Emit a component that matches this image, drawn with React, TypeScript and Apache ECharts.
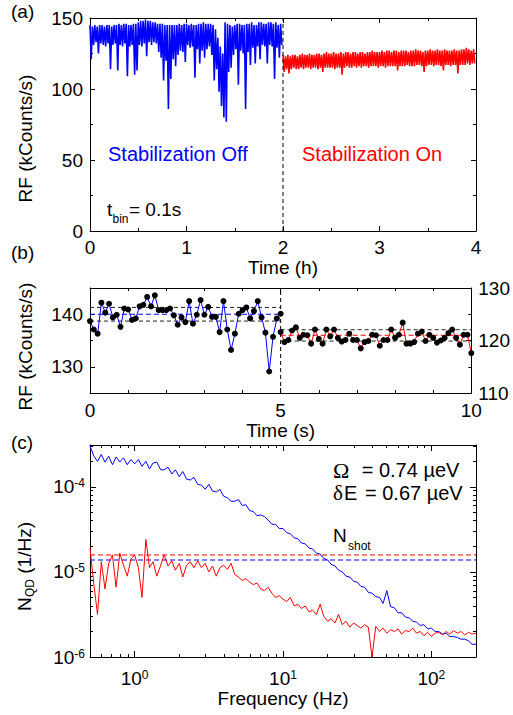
import React, { useEffect, useRef } from "react";
import * as echarts from "echarts";

const FONT = "'Liberation Sans', Arial, Helvetica, sans-serif";
const SERIF = "'Liberation Serif', 'DejaVu Serif', serif";
const BLUE = "#0000ff";
const RED = "#ff0000";

// ---------- Panel (a): RF vs time (h), envelope (upper / lower) of the dense trace ----------
const offStartH = 0;
const onStartH = 2;
const stepH = 0.025;
const offHi = [
  145, 144, 145, 144, 145, 145, 144, 145, 145, 144,
  145, 145, 146, 145, 146, 146, 145, 145, 146, 146,
  147, 148, 148, 149, 148, 148, 147, 147, 146, 146,
  146, 145, 145, 145, 145, 145, 145, 146, 145, 146,
  146, 145, 146, 145, 145, 146, 146, 147, 146, 146,
  146, 145, 142, 136, 130, 125, 147, 146, 145, 144,
  145, 146, 146, 145, 145, 146, 146, 147, 145, 145,
  147, 147, 146, 146, 147, 147, 146, 147, 145, 146,
];
const offLo = [
  121, 131, 133, 125, 132, 131, 130, 132, 114, 131,
  132, 113, 131, 130, 132, 109, 130, 131, 110, 113,
  131, 130, 132, 123, 133, 131, 133, 132, 126, 122,
  106, 120, 86, 107, 121, 116, 124, 127, 126, 119,
  131, 129, 130, 108, 128, 118, 127, 122, 128, 130,
  124, 106, 114, 98, 88, 80, 77, 112, 115, 124,
  128, 103, 127, 125, 86, 126, 117, 129, 118, 130,
  121, 131, 130, 118, 131, 130, 107, 129, 122, 131,
];
const onHi = [
  124, 123, 124, 123, 124, 124, 123, 124, 125, 124,
  124, 125, 124, 124, 125, 125, 124, 125, 126, 125,
  125, 126, 125, 125, 126, 125, 126, 126, 125, 126,
  126, 125, 126, 126, 125, 126, 126, 127, 126, 126,
  126, 127, 126, 127, 127, 126, 127, 127, 126, 127,
  127, 127, 126, 127, 127, 128, 127, 127, 126, 127,
  127, 128, 127, 127, 128, 127, 127, 128, 127, 127,
  127, 128, 127, 127, 128, 128, 129, 128, 127, 128,
];
const onLo = [
  112, 114, 111, 114, 115, 114, 114, 115, 114, 115,
  115, 114, 115, 115, 114, 115, 112, 115, 115, 115,
  115, 114, 115, 115, 110, 115, 116, 115, 115, 116,
  115, 116, 115, 116, 116, 115, 116, 116, 116, 115,
  116, 116, 115, 116, 116, 116, 116, 113, 116, 116,
  116, 117, 116, 116, 116, 117, 117, 116, 112, 116,
  117, 117, 116, 117, 117, 116, 113, 117, 117, 116,
  117, 117, 111, 117, 117, 117, 118, 117, 118, 118,
];
const switchH = 2;

// ---------- Panel (b): 0.1 s bins ----------
const binS = 0.1;
const offStartS = 0;
const onStartS = 5;
const offRate = [
  138.7, 137.1, 136.3, 142.2, 140.3, 142.0, 139.4, 139.9, 137.6, 141.1,
  140.9, 138.9, 139.2, 141.5, 141.8, 143.3, 141.5, 143.6, 140.8, 140.8,
  140.8, 141.1, 139.8, 138.0, 139.4, 138.5, 142.5, 138.2, 139.9, 142.7,
  139.9, 141.4, 139.5, 139.5, 136.6, 142.5, 137.1, 133.2, 136.3, 140.1,
  140.8, 141.3, 139.2, 140.6, 142.5, 139.4, 136.5, 129.1, 135.7, 139.2, 140.1,
];
const onRate = [
  121.6, 119.7, 120.1, 121.9, 122.5, 120.5, 121.1, 121.0, 119.4, 122.1,
  120.3, 119.4, 122.1, 120.8, 122.1, 120.5, 119.8, 120.1, 121.3, 120.1,
  120.1, 118.5, 119.7, 119.9, 121.1, 121.0, 119.0, 120.1, 120.1, 122.1,
  120.5, 121.1, 123.4, 119.4, 119.4, 119.7, 121.3, 121.7, 119.9, 121.1,
  120.5, 119.6, 120.0, 120.5, 121.4, 122.1, 120.5, 119.2, 121.1, 121.1, 117.6,
];
const offMean = 140;
const offBand = [138.7, 141.3];
const onMean = 121;
const onBand = [119.9, 122.05];
const switchS = 5;

// ---------- Panel (c): noise spectra ----------
const freqHz = [
  0.5, 0.531, 0.562, 0.596, 0.631, 0.668, 0.708, 0.75, 0.794, 0.841, 0.891, 0.944,
  1.0, 1.06, 1.12, 1.19, 1.26, 1.33, 1.41, 1.5, 1.58, 1.68, 1.78, 1.88, 2.0, 2.11,
  2.24, 2.37, 2.51, 2.66, 2.82, 2.99, 3.16, 3.35, 3.55, 3.76, 3.98, 4.22, 4.47, 4.73,
  5.01, 5.31, 5.62, 5.96, 6.31, 6.68, 7.08, 7.5, 7.94, 8.41, 8.91, 9.44,
  10.0, 10.6, 11.2, 11.9, 12.6, 13.3, 14.1, 15.0, 15.8, 16.8, 17.8, 18.8, 20.0, 21.1,
  22.4, 23.7, 25.1, 26.6, 28.2, 29.9, 31.6, 33.5, 35.5, 37.6, 39.8, 42.2, 44.7, 47.3,
  50.1, 53.1, 56.2, 59.6, 63.1, 66.8, 70.8, 75.0, 79.4, 84.1, 89.1, 94.4,
  100, 106, 112, 119, 126, 133, 141, 150, 158, 168, 178, 188, 200,
];
// log10 of N_QD (1/Hz)
const offLogN = [
  -3.52, -3.64, -3.7, -3.62, -3.71, -3.64, -3.74, -3.65, -3.71, -3.66, -3.74, -3.68,
  -3.73, -3.68, -3.76, -3.7, -3.79, -3.72, -3.71, -3.8, -3.8, -3.77, -3.85, -3.8,
  -3.88, -3.82, -3.91, -3.92, -3.89, -3.97, -3.98, -4.03, -3.97, -4.05, -4.06, -4.03,
  -4.11, -4.13, -4.17, -4.17, -4.15, -4.22, -4.21, -4.28, -4.29, -4.34, -4.33, -4.35,
  -4.39, -4.44, -4.44, -4.49, -4.49, -4.54, -4.55, -4.6, -4.61, -4.66, -4.67, -4.72,
  -4.73, -4.78, -4.79, -4.84, -4.86, -4.91, -4.93, -4.98, -5.0, -5.05, -5.06, -5.11,
  -5.12, -5.17, -5.18, -5.24, -5.25, -5.29, -5.3, -5.37, -5.22, -5.41, -5.42, -5.48,
  -5.48, -5.53, -5.54, -5.58, -5.59, -5.63, -5.62, -5.67, -5.66, -5.7, -5.7, -5.73,
  -5.72, -5.76, -5.76, -5.77, -5.79, -5.79, -5.81, -5.85, -5.85,
];
const onLogN = [
  -4.72, -5.15, -5.5, -4.88, -5.2, -4.9, -4.8, -5.18, -4.78, -4.92, -5.05, -4.85,
  -4.8, -4.95, -5.3, -4.62, -4.95, -4.88, -5.05, -4.92, -4.8, -4.93, -4.87, -4.98,
  -4.9, -5.06, -4.92, -4.88, -4.95, -4.87, -4.95, -4.9, -5.0, -4.93, -5.05, -4.95,
  -4.92, -4.97, -4.9, -5.03, -5.06, -5.1, -5.08, -5.12, -5.15, -5.13, -5.2, -5.22,
  -5.18, -5.25, -5.3, -5.28, -5.32, -5.35, -5.3, -5.4, -5.38, -5.43, -5.4, -5.47,
  -5.45, -5.5, -5.38, -5.52, -5.58, -5.55, -5.6, -5.5, -5.62, -5.58, -5.65, -5.6,
  -5.63, -5.66, -5.62, -5.65, -6.0, -5.64, -5.7, -5.66, -5.72, -5.68, -5.7, -5.67,
  -5.73, -5.69, -5.7, -5.66, -5.72, -5.7, -5.75, -5.71, -5.76, -5.72, -5.71, -5.74,
  -5.7, -5.73, -5.69, -5.72, -5.7, -5.74, -5.71, -5.73, -5.72,
];
const shotOn = 1.58e-5;
const shotOff = 1.38e-5;
const freqRange = [0.5, 200];
const nRange = [1e-6, 3.1e-4];

// ---------- tick positions ----------
const bLeftLabels = [130, 140];
const bLeftMinor = [135];
const cXMajor = [1, 10, 100];
const cXMinor = [0.6, 0.7, 0.8, 0.9, 2, 3, 4, 5, 6, 7, 8, 9, 20, 30, 40, 50, 60, 70, 80, 90];
const cYMajor = [1e-6, 1e-5, 1e-4];
const cYMinor = [
  2e-6, 3e-6, 4e-6, 5e-6, 6e-6, 7e-6, 8e-6, 9e-6,
  2e-5, 3e-5, 4e-5, 5e-5, 6e-5, 7e-5, 8e-5, 9e-5,
  2e-4, 3e-4,
];

function zigzag(start: number, step: number, hi: number[], lo: number[]) {
  const pts: number[][] = [];
  for (let i = 0; i < hi.length; i++) {
    const t = start + i * step;
    pts.push([t, hi[i]]);
    pts.push([t + step / 2, lo[i]]);
  }
  return pts;
}

const black = "#000";
const lineCol = { color: black, width: 1 };
const labelStyle = { color: black, fontSize: 19, fontFamily: FONT };
const nameStyle = { color: black, fontSize: 19, fontFamily: FONT };

function valAxis(extra: any) {
  return {
    type: "value",
    axisLine: { show: true, onZero: false, lineStyle: lineCol },
    splitLine: { show: false },
    axisTick: { show: true, inside: true, length: 5, lineStyle: lineCol },
    axisLabel: { ...labelStyle, margin: 7 },
    ...extra,
  };
}

const powRich = {
  b: { fontSize: 19, fontFamily: FONT, color: black },
  s: { fontSize: 12, fontFamily: FONT, color: black, verticalAlign: "top" },
};
const powFormatter = (v: number) => `{b|10}{s|${Math.round(Math.log10(v))}}`;

function logAxis(extra: any, major: boolean, values: number[]) {
  return {
    type: "log",
    logBase: 10,
    axisLine: { show: major, onZero: false, lineStyle: lineCol },
    splitLine: { show: false },
    axisTick: { show: true, inside: true, length: major ? 6 : 3, customValues: values, lineStyle: lineCol },
    minorTick: { show: false },
    axisLabel: { show: false },
    ...extra,
  };
}

function dashed(xi: number, yi: number, data: number[][], color: string, dash: number[]) {
  return {
    type: "line",
    xAxisIndex: xi,
    yAxisIndex: yi,
    data,
    symbol: "none",
    silent: true,
    lineStyle: { color, width: 1, type: dash },
  };
}

export default function App() {
  const ref = useRef<HTMLDivElement>(null);
  useEffect(() => {
    document.body.style.margin = "0";
    const chart = echarts.init(ref.current!, undefined, { renderer: "svg" });

    const offPts = offRate.map((v, i) => [offStartS + i * binS, v]);
    const onPts = onRate.map((v, i) => [onStartS + i * binS, v]);
    const offSpec = freqHz.map((f, i) => [f, Math.pow(10, offLogN[i])]);
    const onSpec = freqHz.map((f, i) => [f, Math.pow(10, onLogN[i])]);

    const option: any = {
      animation: false,
      grid: [
        { left: 90, top: 18, width: 386, height: 213 },
        { left: 90, top: 288, width: 386, height: 105 },
        { left: 90, top: 445, width: 386, height: 212 },
      ],
      xAxis: [
        valAxis({
          gridIndex: 0, min: 0, max: 4, interval: 1, position: "bottom",
          minorTick: { show: true, splitNumber: 2, length: 3, lineStyle: lineCol },
          name: "Time (h)", nameLocation: "middle", nameGap: 25, nameTextStyle: nameStyle,
        }),
        valAxis({
          gridIndex: 0, min: 0, max: 4, interval: 1, position: "top",
          axisLabel: { show: false },
          minorTick: { show: true, splitNumber: 2, length: 3, lineStyle: lineCol },
        }),
        valAxis({
          gridIndex: 1, min: 0, max: 10, interval: 5, position: "bottom",
          axisLabel: { ...labelStyle, margin: 8 },
          minorTick: { show: true, splitNumber: 5, length: 3, lineStyle: lineCol },
          name: "Time (s)", nameLocation: "middle", nameGap: 20, nameTextStyle: nameStyle,
        }),
        valAxis({
          gridIndex: 1, min: 0, max: 10, interval: 5, position: "top",
          axisLabel: { show: false },
          minorTick: { show: true, splitNumber: 5, length: 3, lineStyle: lineCol },
        }),
        logAxis({
          gridIndex: 2, min: freqRange[0], max: freqRange[1], position: "bottom",
          axisLabel: { show: true, customValues: cXMajor, formatter: powFormatter, rich: powRich, margin: 12 },
          name: "Frequency (Hz)", nameLocation: "middle", nameGap: 30, nameTextStyle: nameStyle,
        }, true, cXMajor),
        logAxis({ gridIndex: 2, min: freqRange[0], max: freqRange[1], position: "bottom" }, false, cXMinor),
        logAxis({ gridIndex: 2, min: freqRange[0], max: freqRange[1], position: "top" }, true, cXMajor),
        logAxis({ gridIndex: 2, min: freqRange[0], max: freqRange[1], position: "top" }, false, cXMinor),
      ],
      yAxis: [
        valAxis({
          gridIndex: 0, min: 0, max: 150, interval: 50, position: "left",
          minorTick: { show: true, splitNumber: 2, length: 3, lineStyle: lineCol },
        }),
        valAxis({
          gridIndex: 0, min: 0, max: 150, interval: 50, position: "right",
          axisLabel: { show: false },
          minorTick: { show: true, splitNumber: 2, length: 3, lineStyle: lineCol },
        }),
        valAxis({
          gridIndex: 1, min: 125, max: 145, position: "left",
          axisLabel: { ...labelStyle, margin: 7, customValues: bLeftLabels },
          axisTick: { show: true, inside: true, length: 5, lineStyle: lineCol, customValues: bLeftLabels },
        }),
        valAxis({
          gridIndex: 1, min: 125, max: 145, position: "left",
          axisLine: { show: false },
          axisLabel: { show: false },
          axisTick: { show: true, inside: true, length: 3, lineStyle: lineCol, customValues: bLeftMinor },
        }),
        valAxis({
          gridIndex: 1, min: 110, max: 130, interval: 10, position: "right",
          minorTick: { show: true, splitNumber: 2, length: 3, lineStyle: lineCol },
        }),
        logAxis({
          gridIndex: 2, min: nRange[0], max: nRange[1], position: "left",
          axisLabel: { show: true, customValues: cYMajor, formatter: powFormatter, rich: powRich, margin: 5 },
        }, true, cYMajor),
        logAxis({ gridIndex: 2, min: nRange[0], max: nRange[1], position: "left" }, false, cYMinor),
        logAxis({ gridIndex: 2, min: nRange[0], max: nRange[1], position: "right" }, true, cYMajor),
        logAxis({ gridIndex: 2, min: nRange[0], max: nRange[1], position: "right" }, false, cYMinor),
      ],
      series: [
        // (a)
        {
          type: "line", xAxisIndex: 0, yAxisIndex: 0, symbol: "none", silent: true,
          data: zigzag(offStartH, stepH, offHi, offLo),
          lineStyle: { color: BLUE, width: 1.6 },
        },
        {
          type: "line", xAxisIndex: 0, yAxisIndex: 0, symbol: "none", silent: true,
          data: zigzag(onStartH, stepH, onHi, onLo),
          lineStyle: { color: RED, width: 1.6 },
        },
        dashed(0, 0, [[switchH, 0], [switchH, 150]], black, [4, 3]),
        // (b)
        dashed(2, 2, [[offStartS, offBand[0]], [switchS, offBand[0]]], "#222", [4, 3]),
        dashed(2, 2, [[offStartS, offBand[1]], [switchS, offBand[1]]], "#222", [4, 3]),
        dashed(2, 2, [[offStartS, offMean], [switchS, offMean]], BLUE, [5, 3]),
        dashed(2, 4, [[switchS, onBand[0]], [10, onBand[0]]], "#222", [4, 3]),
        dashed(2, 4, [[switchS, onBand[1]], [10, onBand[1]]], "#222", [4, 3]),
        dashed(2, 4, [[switchS, onMean], [10, onMean]], RED, [5, 3]),
        dashed(2, 2, [[switchS, 125], [switchS, 145]], black, [4, 3]),
        {
          type: "line", xAxisIndex: 2, yAxisIndex: 2, data: offPts, silent: true,
          symbol: "circle", symbolSize: 6, itemStyle: { color: black },
          lineStyle: { color: BLUE, width: 1 },
        },
        {
          type: "line", xAxisIndex: 2, yAxisIndex: 4, data: onPts, silent: true,
          symbol: "circle", symbolSize: 6, itemStyle: { color: black },
          lineStyle: { color: RED, width: 1 },
        },
        // (c)
        dashed(4, 5, [[freqRange[0], shotOn], [freqRange[1], shotOn]], RED, [5, 3]),
        dashed(4, 5, [[freqRange[0], shotOff], [freqRange[1], shotOff]], BLUE, [5, 3]),
        {
          type: "line", xAxisIndex: 4, yAxisIndex: 5, data: offSpec, symbol: "none", silent: true,
          lineStyle: { color: BLUE, width: 1 },
        },
        {
          type: "line", xAxisIndex: 4, yAxisIndex: 5, data: onSpec, symbol: "none", silent: true,
          lineStyle: { color: RED, width: 1 },
        },
      ],
      graphic: [
        { type: "text", x: 11, y: 11, style: { text: "(a)", fontSize: 19, fontFamily: FONT, fill: black, align: "left", verticalAlign: "middle" } },
        { type: "text", x: 11, y: 252, style: { text: "(b)", fontSize: 19, fontFamily: FONT, fill: black, align: "left", verticalAlign: "middle" } },
        { type: "text", x: 11, y: 442, style: { text: "(c)", fontSize: 19, fontFamily: FONT, fill: black, align: "left", verticalAlign: "middle" } },
        { type: "text", x: 25, y: 138.5, rotation: Math.PI / 2, style: { text: "RF (kCounts/s)", fontSize: 19, fontFamily: FONT, fill: black, align: "center", verticalAlign: "middle" } },
        { type: "text", x: 25, y: 346.5, rotation: Math.PI / 2, style: { text: "RF (kCounts/s)", fontSize: 19, fontFamily: FONT, fill: black, align: "center", verticalAlign: "middle" } },
        {
          type: "group", x: 24, y: 611, rotation: Math.PI / 2,
          children: [
            { type: "text", x: 0, y: 0, style: { text: "N", fontSize: 19, fontFamily: FONT, fill: black, align: "left", verticalAlign: "middle" } },
            { type: "text", x: 14, y: 6, style: { text: "QD", fontSize: 12, fontFamily: FONT, fill: black, align: "left", verticalAlign: "middle" } },
            { type: "text", x: 32, y: 0, style: { text: " (1/Hz)", fontSize: 19, fontFamily: FONT, fill: black, align: "left", verticalAlign: "middle" } },
          ],
        },
        { type: "text", x: 108, y: 154, style: { text: "Stabilization Off", fontSize: 20, fontFamily: FONT, fill: BLUE, align: "left", verticalAlign: "middle" } },
        { type: "text", x: 302, y: 154, style: { text: "Stabilization On", fontSize: 20, fontFamily: FONT, fill: RED, align: "left", verticalAlign: "middle" } },
        { type: "text", x: 107, y: 209.4, style: { text: "t", fontSize: 19, fontFamily: FONT, fill: black, align: "left", verticalAlign: "middle" } },
        { type: "text", x: 112.5, y: 219, style: { text: "bin", fontSize: 12, fontFamily: FONT, fill: black, align: "left", verticalAlign: "middle" } },
        { type: "text", x: 129, y: 209.4, style: { text: "= 0.1s", fontSize: 19, fontFamily: FONT, fill: black, align: "left", verticalAlign: "middle" } },
        { type: "text", x: 333, y: 470, style: { text: "Ω", fontSize: 22, fontFamily: SERIF, fill: black, align: "left", verticalAlign: "middle" } },
        { type: "text", x: 361.7, y: 470, style: { text: "= 0.74 µeV", fontSize: 20, fontFamily: FONT, fill: black, align: "left", verticalAlign: "middle" } },
        { type: "text", x: 333, y: 493, style: { text: "δ", fontSize: 21, fontFamily: SERIF, fill: black, align: "left", verticalAlign: "middle" } },
        { type: "text", x: 344, y: 493, style: { text: "E", fontSize: 20, fontFamily: FONT, fill: black, align: "left", verticalAlign: "middle" } },
        { type: "text", x: 365, y: 493, style: { text: "= 0.67 µeV", fontSize: 20, fontFamily: FONT, fill: black, align: "left", verticalAlign: "middle" } },
        { type: "text", x: 333, y: 535.4, style: { text: "N", fontSize: 19, fontFamily: FONT, fill: black, align: "left", verticalAlign: "middle" } },
        { type: "text", x: 348, y: 545.8, style: { text: "shot", fontSize: 12, fontFamily: FONT, fill: black, align: "left", verticalAlign: "middle" } },
      ],
    };
    chart.setOption(option);
    return () => chart.dispose();
  }, []);
  return <div ref={ref} style={{ width: 513, height: 715 }} />;
}
